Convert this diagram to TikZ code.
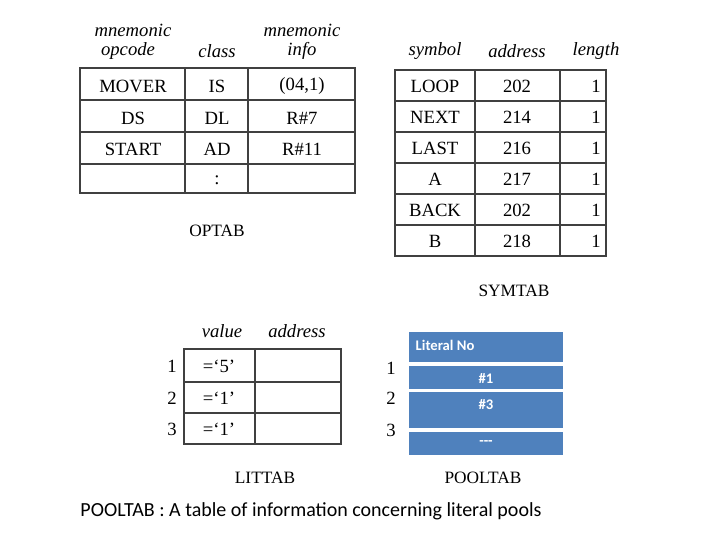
\documentclass[tikz,border=0pt]{standalone}
\usepackage{fontspec}
\setmainfont{Liberation Serif}
\newfontfamily\carlitofont{Carlito}
\definecolor{pb}{HTML}{4F81BD}
\begin{document}
\begin{tikzpicture}[x=0.75pt,y=-0.75pt,
 tl/.style={draw=black!75,line width=1pt},
 cell/.style={font=\fontsize{14}{16}\selectfont},
 hd/.style={font=\fontsize{14}{16}\selectfont\itshape},
 lbl/.style={font=\fontsize{13}{15}\selectfont},
 blu/.style={fill=pb,draw=none},
 bt/.style={text=white,font=\carlitofont\bfseries\fontsize{11}{13}\selectfont}]
\useasboundingbox (0,0) rectangle (720,540);
% OPTAB
\draw[tl] (80,68) rectangle (355,193);
\foreach \y in {100,132,164} \draw[tl] (80,\y) -- (355,\y);
\foreach \x in {185,248} \draw[tl] (\x,68) -- (\x,193);
\node[hd] (h1) at (133,30) {mnemonic};
\node[hd] (h2) at (128,51) {opcode};
\node[hd] (h3) at (217,51) {class};
\node[hd] (h4) at (302,30) {mnemonic};
\node[hd] (h5) at (302,51) {info};
\node[cell] (o11) at (133,86) {MOVER};
\node[cell] (o12) at (217,86) {IS};
\node[cell] (o13) at (302,86) {(04,1)};
\node[cell] (o21) at (133,118) {DS};
\node[cell] (o22) at (217,118) {DL};
\node[cell] (o23) at (302,118) {R\#7};
\node[cell] (o31) at (133,149) {START};
\node[cell] (o32) at (217,149) {AD};
\node[cell] (o33) at (302,149) {R\#11};
\node[cell] (o42) at (217,180) {:};
\node[lbl] (optab) at (217,231) {OPTAB};
% SYMTAB
\draw[tl] (395,70) rectangle (606,256);
\foreach \y in {101,132,163,194,225} \draw[tl] (395,\y) -- (606,\y);
\foreach \x in {475,560} \draw[tl] (\x,70) -- (\x,256);
\node[hd] (s1) at (435,51) {symbol};
\node[hd] (s2) at (517,51) {address};
\node[hd] (s3) at (596,51) {length};
\foreach \n/\a [count=\i] in {LOOP/202,NEXT/214,LAST/216,A/217,BACK/202,B/218}{
 \node[cell] (sa\i) at (435,{70+31*\i-15}) {\n};
 \node[cell] (sb\i) at (517,{70+31*\i-15}) {\a};
 \node[cell] (sc\i) at (596,{70+31*\i-15}) {1};
}
\node[lbl] (symtab) at (514,291) {SYMTAB};
% LITTAB
\draw[tl] (184,349) rectangle (341,444);
\foreach \y in {382,413} \draw[tl] (184,\y) -- (341,\y);
\draw[tl] (255,349) -- (255,444);
\node[hd] (l1) at (222,331) {value};
\node[hd] (l2) at (297,331) {address};
\node[cell] (la1) at (172,366) {1};
\node[cell] (la2) at (172,398) {2};
\node[cell] (la3) at (172,429) {3};
\node[cell] (lv1) at (219,366) {=‘5’};
\node[cell] (lv2) at (219,398) {=‘1’};
\node[cell] (lv3) at (219,429) {=‘1’};
\node[lbl] (littab) at (265,478) {LITTAB};
% POOLTAB
\node[cell] (p1) at (391,368) {1};
\node[cell] (p2) at (391,398) {2};
\node[cell] (p3) at (391,430) {3};
\fill[blu] (409,332) rectangle (563,362);
\fill[blu] (409,366) rectangle (563,389);
\fill[blu] (409,392) rectangle (563,428);
\fill[blu] (409,432) rectangle (563,455);
\node[bt,anchor=west] (b1) at (411,345) {Literal No};
\node[bt] (b2) at (486,378) {\#1};
\node[bt] (b3) at (486,405) {\#3};
\node[bt] (b4) at (486,443) {---};
\node[lbl] (pooltab) at (483,478) {POOLTAB};
\node[font=\carlitofont\fontsize{15}{18}\selectfont] (cap) at (311,511) {POOLTAB : A table of information concerning literal pools};
\end{tikzpicture}
\end{document}
